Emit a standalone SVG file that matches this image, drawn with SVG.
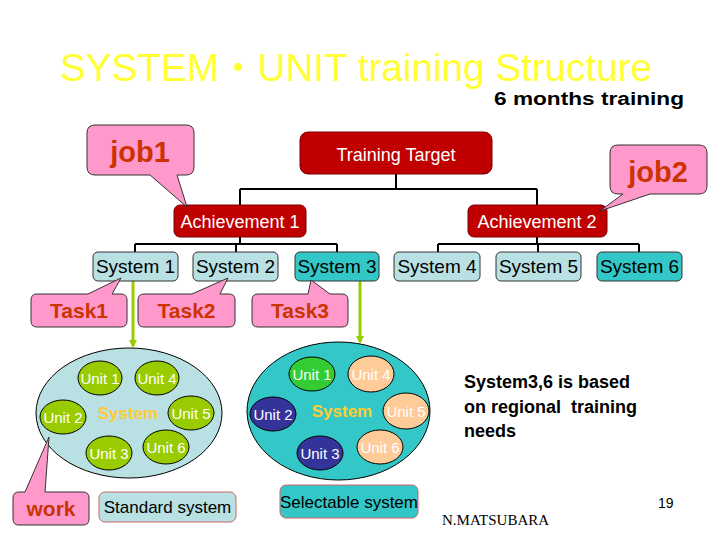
<svg xmlns="http://www.w3.org/2000/svg" width="720" height="540" viewBox="0 0 720 540">
<defs>
<style>
.sans{font-family:"Liberation Sans","Noto Sans CJK JP",Arial,sans-serif}
.red{fill:#C00000;stroke:#7A0000;stroke-width:1}
.rtxt{fill:#ffffff;font-size:18px;text-anchor:middle}
.call{fill:#FF99CC;stroke:#333333;stroke-width:1}
.ctxt{fill:#CC3300;font-weight:bold;text-anchor:middle}
.sysL{fill:#B9E0E3;stroke:#333333;stroke-width:1}
.sysD{fill:#33C7C7;stroke:#333333;stroke-width:1}
.stxt{fill:#000000;font-size:19px;text-anchor:middle}
.tree{fill:none;stroke:#000000;stroke-width:2}
.garrow{fill:none;stroke:#99CC00;stroke-width:3}
.ug{fill:#99CC00;stroke:#000;stroke-width:1}
.ub{fill:#333399;stroke:#000;stroke-width:1}
.up{fill:#FFCC99;stroke:#000;stroke-width:1}
.ugg{fill:#33CC33;stroke:#000;stroke-width:1}
.utxt{fill:#ffffff;font-size:15px;text-anchor:middle}
.systxt{fill:#FFCC33;font-size:17px;font-weight:bold;text-anchor:middle}
.label{stroke:#CC6666;stroke-width:1}
</style>
<marker id="ah" markerWidth="8" markerHeight="8" refX="6" refY="4" orient="auto" markerUnits="userSpaceOnUse">
<path d="M0,0 L8,4 L0,8 Z" fill="#99CC00"/>
</marker>
</defs>
<rect width="720" height="540" fill="#ffffff"/>

<g id="title" class="sans">
<text x="60" y="81" font-size="38" fill="#FFFF33" textLength="592" lengthAdjust="spacingAndGlyphs">SYSTEM・UNIT training Structure</text>
<text x="494" y="105" font-size="18" font-weight="bold" fill="#000" textLength="190" lengthAdjust="spacingAndGlyphs">6 months training</text>
</g>

<g id="connectors">
<path class="tree" d="M396,174 V189 M240,189 H537 M240,189 V205 M537,189 V205"/>
<path class="tree" d="M240,237 V244 M135,244 H337 M135,244 V252 M236,244 V252 M337,244 V252"/>
<path class="tree" d="M537,237 V244 M438,244 H639 M438,244 V252 M538,244 V252 M639,244 V252"/>
<line class="garrow" x1="133" y1="281" x2="133" y2="346" marker-end="url(#ah)"/>
<line class="garrow" x1="360" y1="281" x2="360" y2="342" marker-end="url(#ah)"/>
</g>

<g id="training-target" class="sans">
<rect class="red" x="300" y="132" width="192" height="42" rx="8"/>
<text class="rtxt" x="396" y="161">Training Target</text>
</g>
<g id="achievement-1" class="sans">
<rect class="red" x="174" y="205" width="132" height="32" rx="6"/>
<text class="rtxt" x="240" y="228">Achievement 1</text>
</g>
<g id="achievement-2" class="sans">
<rect class="red" x="468" y="205" width="139" height="32" rx="6"/>
<text class="rtxt" x="537" y="228">Achievement 2</text>
</g>

<g id="job1" class="sans">
<path class="call" d="M95,125 L186,125 Q194,125 194,133 L194,167 Q194,175 186,175 L177,175 L187,207 L150,175 L95,175 Q87,175 87,167 L87,133 Q87,125 95,125 Z"/>
<text class="ctxt" x="140" y="162" font-size="29">job1</text>
</g>
<g id="job2" class="sans">
<path class="call" d="M618,145 L699,145 Q707,145 707,153 L707,186 Q707,194 699,194 L650,194 L600,211 L623,194 L618,194 Q610,194 610,186 L610,153 Q610,145 618,145 Z"/>
<text class="ctxt" x="658" y="182" font-size="29">job2</text>
</g>

<g id="system-1" class="sans"><rect class="sysL" x="93" y="252" width="85" height="29" rx="5"/><text class="stxt" x="135.5" y="273">System 1</text></g>
<g id="system-2" class="sans"><rect class="sysL" x="193" y="252" width="85" height="29" rx="5"/><text class="stxt" x="235.5" y="273">System 2</text></g>
<g id="system-3" class="sans"><rect class="sysD" x="295" y="252" width="84" height="29" rx="5"/><text class="stxt" x="337" y="273">System 3</text></g>
<g id="system-4" class="sans"><rect class="sysL" x="394" y="252" width="86" height="29" rx="5"/><text class="stxt" x="437" y="273">System 4</text></g>
<g id="system-5" class="sans"><rect class="sysL" x="496" y="252" width="85" height="29" rx="5"/><text class="stxt" x="538.5" y="273">System 5</text></g>
<g id="system-6" class="sans"><rect class="sysD" x="597" y="252" width="85" height="29" rx="5"/><text class="stxt" x="639.5" y="273">System 6</text></g>

<g id="task1" class="sans">
<path class="call" d="M37,294 L88,294 L121,278 L112,294 L121,294 Q127,294 127,300 L127,321 Q127,327 121,327 L37,327 Q31,327 31,321 L31,300 Q31,294 37,294 Z"/>
<text class="ctxt" x="79" y="318" font-size="21">Task1</text>
</g>
<g id="task2" class="sans">
<path class="call" d="M144,294 L192,294 L228,278 L220,294 L229,294 Q235,294 235,300 L235,321 Q235,327 229,327 L144,327 Q138,327 138,321 L138,300 Q138,294 144,294 Z"/>
<text class="ctxt" x="186.5" y="318" font-size="21">Task2</text>
</g>
<g id="task3" class="sans">
<path class="call" d="M258,294 L308,294 L311,280 L330,294 L342,294 Q348,294 348,300 L348,321 Q348,327 342,327 L258,327 Q252,327 252,321 L252,300 Q252,294 258,294 Z"/>
<text class="ctxt" x="300" y="318" font-size="21">Task3</text>
</g>

<g id="standard-system-ellipse" class="sans">
<ellipse cx="129" cy="413" rx="93" ry="65" fill="#B9E0E3" stroke="#000" stroke-width="1"/>
<text class="systxt" x="128" y="419">System</text>
<ellipse class="ug" cx="100" cy="378" rx="22" ry="17"/><text class="utxt" x="100" y="384">Unit 1</text>
<ellipse class="ug" cx="157" cy="378" rx="22" ry="17"/><text class="utxt" x="157" y="384">Unit 4</text>
<ellipse class="ug" cx="63" cy="417" rx="23" ry="17"/><text class="utxt" x="63" y="423">Unit 2</text>
<ellipse class="ug" cx="191" cy="413" rx="23" ry="17"/><text class="utxt" x="191" y="419">Unit 5</text>
<ellipse class="ug" cx="109" cy="453" rx="23" ry="17"/><text class="utxt" x="109" y="459">Unit 3</text>
<ellipse class="ug" cx="166" cy="447" rx="23" ry="17"/><text class="utxt" x="166" y="453">Unit 6</text>
</g>

<g id="selectable-system-ellipse" class="sans">
<ellipse cx="338.5" cy="411" rx="91.5" ry="69" fill="#33C7C7" stroke="#000" stroke-width="1"/>
<text class="systxt" x="342" y="417">System</text>
<ellipse class="ugg" cx="312" cy="374" rx="23" ry="17"/><text class="utxt" x="312" y="380">Unit 1</text>
<ellipse class="up" cx="371" cy="374" rx="23" ry="18"/><text class="utxt" x="371" y="380">Unit 4</text>
<ellipse class="ub" cx="273" cy="414" rx="23" ry="17"/><text class="utxt" x="273" y="420">Unit 2</text>
<ellipse class="up" cx="406" cy="411" rx="23" ry="18"/><text class="utxt" x="406" y="417">Unit 5</text>
<ellipse class="ub" cx="320" cy="453" rx="23" ry="17"/><text class="utxt" x="320" y="459">Unit 3</text>
<ellipse class="up" cx="380" cy="447" rx="23" ry="17"/><text class="utxt" x="380" y="453">Unit 6</text>
</g>

<g id="work" class="sans">
<path class="call" d="M19,492 L25,492 L49,437 L45,492 L83,492 Q89,492 89,498 L89,519 Q89,525 83,525 L19,525 Q13,525 13,519 L13,498 Q13,492 19,492 Z"/>
<text class="ctxt" x="51" y="516" font-size="21">work</text>
</g>

<g id="standard-system" class="sans">
<rect class="label" x="99" y="492" width="137" height="30" rx="6" fill="#B9E0E3"/>
<text x="167.5" y="513" font-size="17" text-anchor="middle" fill="#000">Standard system</text>
</g>
<g id="selectable-system" class="sans">
<rect class="label" x="280" y="485" width="138" height="33" rx="6" fill="#33C7C7"/>
<text x="349" y="508" font-size="17" text-anchor="middle" fill="#000">Selectable system</text>
</g>

<g id="note" class="sans" font-size="18" font-weight="bold" fill="#000">
<text x="464" y="388">System3,6 is based</text>
<text x="464" y="413" xml:space="preserve">on regional  training</text>
<text x="464" y="437">needs</text>
</g>
<g id="footer">
<text x="658" y="508" font-size="14" font-family="'Liberation Sans',Arial,sans-serif" fill="#000">19</text>
<text x="442" y="525" font-size="15" font-family="'Liberation Serif','Times New Roman',serif" fill="#000">N.MATSUBARA</text>
</g>
</svg>
